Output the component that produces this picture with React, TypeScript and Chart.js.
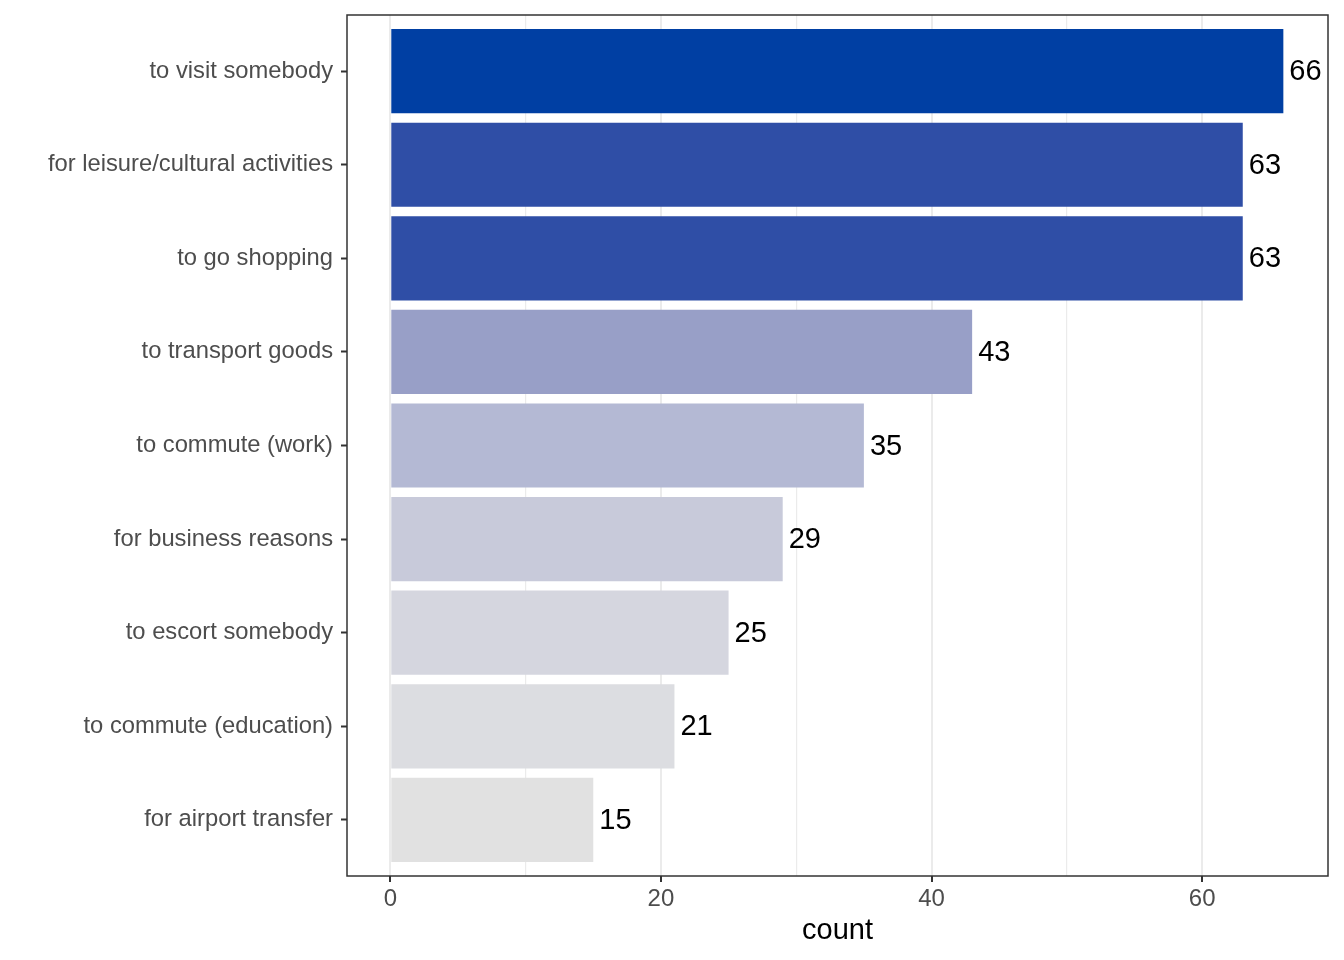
import React, { useEffect, useRef } from "react";
import { Chart, registerables } from "chart.js";

Chart.register(...registerables);

const categories = [
  "to visit somebody",
  "for leisure/cultural activities",
  "to go shopping",
  "to transport goods",
  "to commute (work)",
  "for business reasons",
  "to escort somebody",
  "to commute (education)",
  "for airport transfer",
];
const counts = [66, 63, 63, 43, 35, 29, 25, 21, 15];
const barColors = [
  "#003fa3",
  "#2f4ea6",
  "#2f4ea6",
  "#989fc7",
  "#b4b9d4",
  "#c8cada",
  "#d5d6df",
  "#dcdde1",
  "#e1e1e1",
];
const xTicks = [0, 10, 20, 30, 40, 50, 60];

const FONT = "'Liberation Sans', Arial, sans-serif";

export default function App() {
  const ref = useRef<HTMLCanvasElement | null>(null);

  useEffect(() => {
    if (!ref.current) return;
    const n = categories.length;
    const data = counts.map((v, i) => ({ x: v, y: i + 1 }));

    const labelPlugin = {
      id: "valueLabels",
      afterDatasetsDraw(chart: any) {
        const ctx = chart.ctx;
        const meta = chart.getDatasetMeta(0);
        ctx.save();
        ctx.font = `29px ${FONT}`;
        ctx.fillStyle = "#000000";
        ctx.textAlign = "left";
        ctx.textBaseline = "middle";
        meta.data.forEach((bar: any, i: number) => {
          ctx.fillText(String(counts[i]), bar.x + 6, bar.y + 1);
        });
        const a = chart.chartArea;
        ctx.strokeStyle = "#333333";
        ctx.lineWidth = 1.5;
        ctx.strokeRect(a.left, a.top, a.right - a.left, a.bottom - a.top);
        ctx.restore();
      },
    };

    const chart = new Chart(ref.current, {
      type: "bar",
      data: {
        datasets: [
          {
            data: data as any,
            backgroundColor: barColors,
            borderWidth: 0,
            barPercentage: 0.9,
            categoryPercentage: 1,
          },
        ],
      },
      options: {
        indexAxis: "y",
        animation: false,
        responsive: false,
        maintainAspectRatio: false,
        devicePixelRatio: 1,
        layout: { padding: { top: 15, right: 16, left: 0, bottom: 0 } },
        plugins: {
          legend: { display: false },
          tooltip: { enabled: false },
        },
        scales: {
          x: {
            type: "linear",
            position: "bottom",
            min: -3.2,
            max: 69.3,
            offset: false,
            afterBuildTicks(scale: any) {
              scale.ticks = xTicks.map((v) => ({ value: v }));
            },
            afterFit(scale: any) {
              scale.height = 84;
            },
            grid: {
              display: true,
              offset: false,
              drawOnChartArea: true,
              drawTicks: true,
              tickLength: 6,
              color: "#ebebeb",
              lineWidth: (ctx: any) =>
                ctx.tick && ctx.tick.value % 20 === 0 ? 2 : 1.2,
              tickColor: (ctx: any) =>
                ctx.tick && ctx.tick.value % 20 === 0 ? "#333333" : "rgba(0,0,0,0)",
              tickWidth: 2,
            },
            border: { display: false },
            ticks: {
              color: "#4d4d4d",
              font: { family: FONT, size: 24 },
              padding: 3,
              maxRotation: 0,
              autoSkip: false,
              callback: (v: any) => (Number(v) % 20 === 0 ? String(v) : ""),
            },
            title: {
              display: true,
              text: "count",
              color: "#000000",
              font: { family: FONT, size: 29 },
              padding: { top: 0, bottom: 12 },
            },
          },
          y: {
            type: "linear",
            position: "left",
            reverse: true,
            offset: false,
            min: 0.4,
            max: n + 0.6,
            afterBuildTicks(scale: any) {
              scale.ticks = categories.map((_, i) => ({ value: i + 1 }));
            },
            afterFit(scale: any) {
              scale.width = 347;
              scale.paddingTop = 0;
              scale.paddingBottom = 0;
            },
            grid: {
              display: true,
              offset: false,
              drawOnChartArea: false,
              drawTicks: true,
              tickLength: 6,
              tickColor: "#333333",
              tickWidth: 2,
            },
            border: { display: false },
            ticks: {
              color: "#4d4d4d",
              font: { family: FONT, size: 23.75 },
              padding: 8,
              autoSkip: false,
              callback: (v: any) => categories[Math.round(Number(v)) - 1] ?? "",
            },
          },
        },
      },
      plugins: [labelPlugin],
    });
    return () => chart.destroy();
  }, []);

  return (
    <div style={{ position: "fixed", left: 0, top: 0, width: 1344, height: 960, background: "#ffffff" }}>
      <canvas ref={ref} width={1344} height={960} style={{ width: 1344, height: 960 }} />
    </div>
  );
}
